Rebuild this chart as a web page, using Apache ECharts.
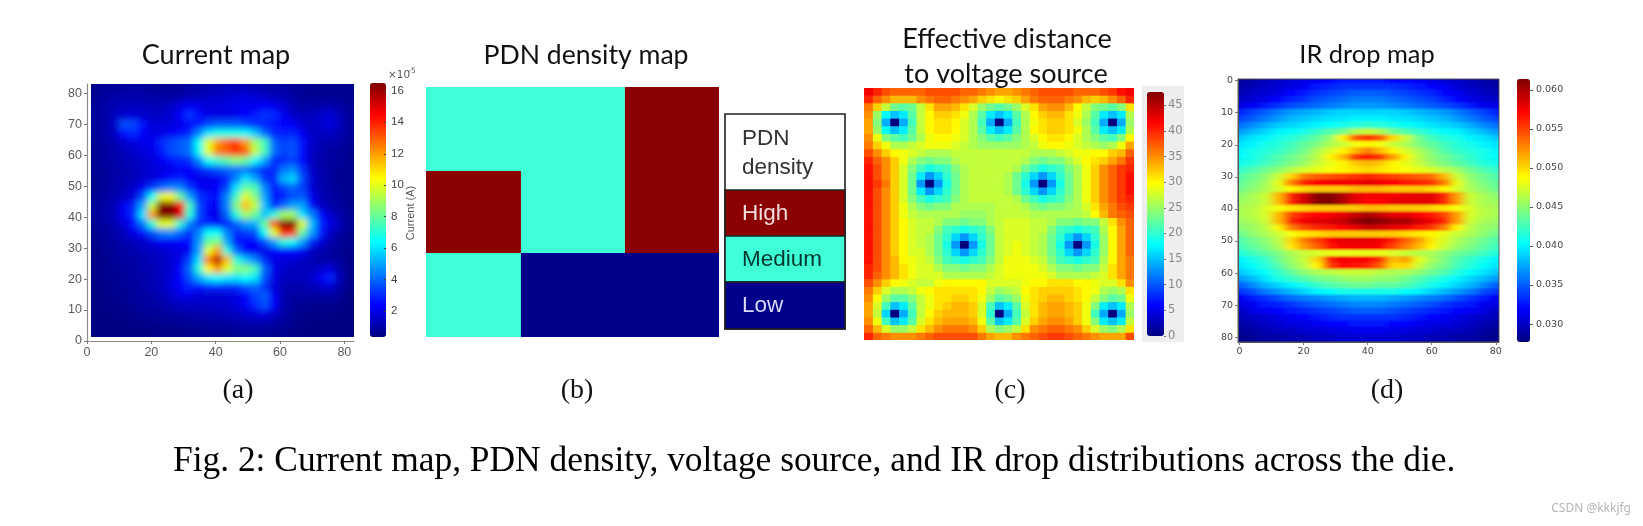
<!DOCTYPE html>
<html><head><meta charset="utf-8">
<style>
html,body{margin:0;padding:0;background:#fff}
#page{position:relative;width:1643px;height:526px;overflow:hidden;background:#fff}
#main{position:absolute;left:0;top:0;width:1643px;height:526px;z-index:3}
.clip{position:absolute;overflow:hidden;z-index:1}
.heat{position:absolute}
</style>
<script src="https://cdn.jsdelivr.net/npm/echarts@6/dist/echarts.min.js"></script>
</head><body>
<svg width="0" height="0" style="position:absolute"><filter id="softA" x="0" y="0" width="100%" height="100%"><feGaussianBlur stdDeviation="3.4"/></filter><filter id="softD" x="0" y="0" width="100%" height="100%"><feGaussianBlur stdDeviation="4 1.3"/></filter><filter id="softC" x="0" y="0" width="100%" height="100%"><feGaussianBlur stdDeviation="0.7"/></filter></svg>
<div id="page">
<div class="clip" id="clipA"><div class="heat" id="heatA"></div></div>
<div class="clip" id="clipC"><div class="heat" id="heatC"></div></div>
<div class="clip" id="clipD"><div class="heat" id="heatD"></div></div>
<div id="main"></div>
</div>
<script>
// Current map, x 10^-5 A, rows from the top of the die to the bottom
const currentMap = [
[.6,.7,.8,.9,.9,.9,.8,.7,.7,.8,.9,1,1.1,1.2,1.3,1.3,1.3,1.2,1.1,1,.9,.8,.7,.6,.6,.6,.6,.6],
[.7,.9,1,1.1,1.1,1.1,1,1,1,1.1,1.2,1.4,1.5,1.6,1.7,1.8,1.9,1.8,1.6,1.4,1.2,1,.8,.7,.7,.7,.7,.6],
[.8,1,1.2,1.3,1.4,1.4,1.3,1.3,1.5,1.9,2.3,2,1.8,1.8,1.9,2,2.2,2.2,2.3,2.2,1.7,1.2,1,1,1.1,1.2,1,.7],
[.8,1,1.3,1.7,1.8,1.6,1.5,1.5,1.7,2.4,3.2,2.5,2,1.9,2,2.1,2.4,2.8,3.2,3,2.2,1.6,1.3,1.4,1.6,1.7,1.3,.8],
[.8,1,1.5,3.6,3.5,2.5,1.8,1.7,1.8,2,2.3,2.8,3.5,3.8,3.8,3.8,3.5,3.2,2.8,2.7,2.4,2.2,1.7,1.4,1.6,1.9,1.4,.8],
[.8,1,1.4,2.6,3,2.3,1.9,1.9,2.2,2.5,3,4.5,6,6.8,6.8,6.8,6.5,5.5,4,3,2.8,2.9,2.2,1.5,1.4,1.4,1.2,.8],
[.7,.9,1.2,1.6,1.9,2,2.2,3,3.5,3.8,4.2,6.5,10,12,13,13.5,12,9,7.5,4,3.4,3.6,2.6,1.6,1.2,1.1,1,.7],
[.7,.9,1.1,1.3,1.6,1.8,2,2.7,3.5,3.8,4.2,6.5,10,12.5,13,13.8,13,9.5,7.5,4.2,3.4,3.7,2.6,1.5,1.1,.9,.8,.6],
[.7,.9,1,1.2,1.4,1.6,1.8,2.2,2.6,2.9,3,4.5,6.5,7.2,7.8,8.5,8,6.5,5,3,3,3.4,2.5,1.4,1,.9,.8,.6],
[.7,.8,1,1.1,1.3,1.5,1.7,1.9,2.1,2.4,2.3,2.8,3.2,3.6,4,4.2,4.2,3.6,2.9,3,4.2,4.6,3.2,1.6,1.1,.9,.7,.6],
[.6,.8,1,1.1,1.3,1.5,1.8,2.2,2.6,2.9,2.4,2,2,2.2,2.8,4.5,6,5,3.2,3,5.2,5.8,3.6,1.7,1.1,.9,.7,.6],
[.6,.8,1,1.2,1.6,2.2,3.2,4,4.5,4.5,3.2,2.4,2.1,2.3,3.5,6,8,7.5,4.5,2.7,3.4,4,3.4,1.8,1.2,.9,.7,.6],
[.7,.9,1.1,1.4,1.8,3.5,6.5,10,10.5,8,5,3.2,2.7,2.6,4.5,7.5,10,8.5,5,2.5,2.8,3.6,3.8,2.1,1.3,1,.8,.6],
[.8,1,1.2,2.2,3,5,9.5,16.5,16.5,14.5,7.5,3.5,2.5,2.2,4.5,8.5,11.5,9.5,5.5,3,4,5,5,2.5,1.5,1.1,.8,.6],
[.8,1,1.3,2.2,3,6,12,16.5,16.5,15,7,3.5,2.3,2,4,7,9,8,5.5,7,9,9,6,4.5,2.5,1.6,1.1,.7],
[.7,.9,1.2,1.8,2.6,4.2,7,10,10,7,4.5,3.2,3,2.6,2.9,3.9,4.9,5.2,8,13,16.5,16.5,10,5.5,3,2,1.3,.7],
[.6,.8,1,1.3,2,2.6,3.6,4.4,4.6,4,3.2,4.5,6.5,6.5,4.5,3,3.3,3.6,6.5,10,14,13.5,8,5,2.8,1.5,1,.6],
[.6,.7,.9,1.1,1.3,1.6,1.9,2.2,2.3,2.4,2.6,4.8,8,8.5,5,2.7,2.4,2.4,3.5,5,7,6.5,5,3,1.8,1.1,.8,.6],
[.5,.7,.8,1,1.1,1.3,1.4,1.6,1.8,1.9,2.3,5,10,12,7,4,2.5,2.2,2,2.3,2.6,2.6,2.2,1.5,1.1,.9,.7,.5],
[.5,.6,.8,.9,1,1.1,1.3,1.4,1.7,2.1,3.5,6,12.5,15.5,11.5,7,5.5,4.5,3,2,1.8,1.7,1.5,1.2,1,1,.8,.5],
[.5,.6,.7,.8,.9,1.1,1.2,1.4,1.7,2.3,4,7,10.5,12,10,8.5,8.5,7.5,4,2.1,1.6,1.4,1.3,1.3,1.6,1.9,1.1,.5],
[.5,.6,.7,.8,.9,1,1.2,1.4,1.8,2.4,3.6,5,6,6.5,6,6,6.5,6,3.6,1.9,1.4,1.3,1.3,1.6,2.2,2.9,1.3,.5],
[.4,.5,.6,.7,.8,1,1.2,1.3,1.8,2.4,2.9,2.6,3,3,3,3,3.6,4,3.2,1.8,1.2,1.1,1.1,1.2,1.5,1.7,1,.5],
[.4,.5,.6,.7,.8,.9,1,1.2,1.5,1.9,2,1.7,1.6,1.6,1.7,1.9,2.4,3.4,3.8,2.2,1.1,.9,.9,.9,.9,.9,.7,.4],
[.4,.5,.5,.6,.7,.8,.9,1,1.2,1.4,1.4,1.4,1.4,1.5,1.6,1.8,2.2,3,3.6,2.3,1.1,.8,.7,.6,.6,.6,.5,.4],
[.4,.4,.5,.5,.6,.7,.7,.8,.9,1,1,1.1,1.1,1.2,1.3,1.4,1.6,1.8,1.9,1.5,1,.7,.6,.5,.5,.5,.4,.4],
[.4,.4,.4,.4,.5,.5,.6,.6,.6,.7,.7,.8,.8,.9,.9,1,1.1,1.1,1.1,1,.8,.6,.5,.4,.4,.4,.4,.4],
[.4,.4,.4,.4,.4,.4,.4,.5,.5,.5,.5,.6,.6,.6,.6,.7,.7,.7,.7,.6,.6,.5,.4,.4,.4,.4,.4,.4]
];
// Effective distance to the nearest voltage source
const distanceMap = [
[42,40,38,37,37,37,37,38,38,38,38,37,37,36,35,34,34,35,36,37,38,38,38,38,37,37,37,38,39,41,42],
[40,37,35,33,33,33,35,36,37,37,36,35,34,32,31,30,31,32,34,36,37,37,37,36,35,33,32,33,35,37,40],
[36,32,27,23,22,23,27,31,34,34,33,31,28,25,23,22,23,25,28,31,34,35,35,33,30,27,24,23,22,24,31],
[35,25,18,15,17,22,27,30,32,32,31,29,26,22,17,15,17,22,26,30,32,33,33,31,29,26,22,17,15,17,26],
[34,24,14,0,14,21,27,30,31,31,30,28,26,21,14,0,14,21,26,29,31,32,32,31,28,25,21,14,0,14,25],
[34,25,18,15,17,22,27,30,31,31,30,28,26,22,17,15,17,22,26,30,31,32,32,31,29,26,22,17,15,17,26],
[35,29,24,22,21,23,26,29,30,30,29,28,26,24,22,21,22,24,26,28,30,31,31,30,28,26,24,22,21,24,30],
[36,32,29,26,26,27,28,29,29,29,28,27,26,25,25,25,25,25,26,27,29,30,30,29,28,27,26,25,26,29,34],
[38,35,32,30,29,28,27,26,26,26,27,27,27,27,27,27,27,27,27,26,26,26,27,28,29,29,30,30,32,33,37],
[40,37,35,32,29,26,24,23,24,24,26,27,27,27,27,27,27,27,26,24,23,24,24,26,28,30,31,32,34,36,39],
[41,38,35,32,28,24,21,19,20,21,24,26,27,27,27,27,27,26,23,21,19,20,21,24,26,29,32,35,37,39,40],
[41,38,35,32,28,23,17,13,16,20,23,26,27,27,27,27,26,23,20,16,13,16,20,23,26,29,32,35,37,39,41],
[41,39,36,32,28,23,13,0,13,19,23,26,27,27,27,27,26,23,19,13,0,13,19,23,26,29,32,35,37,39,41],
[41,38,35,32,28,23,17,13,16,20,23,26,27,27,27,27,26,23,20,16,13,16,20,23,26,29,32,35,37,39,41],
[41,38,35,32,28,24,21,19,20,21,24,26,27,27,27,27,27,26,23,21,19,20,21,24,26,29,32,35,37,39,40],
[41,38,35,32,29,26,24,23,24,24,26,26,26,26,26,27,27,27,26,24,23,24,24,25,26,28,31,34,36,38,39],
[41,38,35,32,29,27,26,26,26,26,26,25,25,25,26,27,27,27,27,26,26,26,26,26,26,27,30,33,36,37,38],
[41,38,35,32,30,28,27,27,26,24,24,23,24,24,26,27,28,28,28,27,27,26,24,24,23,24,24,27,31,35,37],
[41,38,35,32,30,28,27,27,24,21,20,19,20,21,24,27,28,28,28,27,27,24,21,20,19,20,21,26,30,34,37],
[41,38,35,32,30,28,27,26,23,20,16,13,16,20,23,27,28,28,28,27,26,23,20,16,13,16,20,25,30,34,37],
[41,38,35,32,30,28,27,26,23,19,13,0,13,19,23,27,28,29,28,27,26,23,19,13,0,13,19,25,30,34,37],
[41,38,35,32,30,28,28,26,23,20,16,13,16,20,23,27,28,29,28,27,26,23,20,16,13,16,20,25,30,34,37],
[41,38,35,33,30,29,28,27,24,21,20,19,20,21,24,27,29,29,29,28,27,24,21,20,19,20,21,26,30,34,36],
[40,38,35,33,31,29,28,28,26,24,24,23,24,24,26,28,29,29,29,29,28,26,24,24,23,24,24,27,31,34,36],
[40,37,35,33,31,29,28,28,28,26,26,26,26,26,27,28,29,29,29,29,29,28,26,26,26,26,27,28,31,34,36],
[38,35,32,30,29,28,27,27,29,30,30,30,30,30,28,28,28,28,29,30,30,31,31,31,30,30,29,28,28,31,35],
[36,32,28,26,26,27,29,30,31,31,31,31,31,30,27,25,26,27,30,31,32,32,32,32,31,30,29,26,25,26,31],
[35,30,25,22,22,24,27,29,31,31,32,32,31,29,25,22,23,25,29,31,32,33,33,32,31,30,27,24,22,23,29],
[34,28,21,15,17,22,27,29,31,32,33,33,32,28,21,15,17,22,28,31,33,34,34,33,32,29,24,17,15,17,26],
[34,27,16,0,14,21,27,30,32,33,33,33,32,28,20,0,14,21,27,31,33,34,34,33,32,29,21,14,0,14,25],
[35,29,21,15,17,22,28,31,33,34,34,34,33,29,22,15,17,22,28,32,34,35,35,34,32,29,24,17,15,17,27],
[37,33,28,25,25,27,31,33,35,36,36,36,35,32,26,24,25,27,31,35,36,37,37,36,35,32,28,25,24,26,31],
[40,37,36,35,35,35,36,37,38,38,38,38,38,36,34,33,33,35,36,37,38,39,39,38,37,36,35,34,34,34,38]
];
// IR drop in mV: one row every 2 units of y, one column every 4 units of x
const irDropMap = [
[28.5,29,29.5,30,30.5,31,31.5,32,32.5,32.5,32.5,32.5,32,32,31.5,31,30.5,30,29.5,29,28.5],
[29,29.5,30,30.5,31,31.5,32.5,33,33.5,33.5,33.5,33.5,33.5,33,32.5,32,31.5,30.5,30,29.5,29],
[29.5,30,30.5,31,32,32.5,33.5,34,34.5,35,35,35,34.5,34,33.5,33,32,31.5,30.5,30,29.5],
[30,30.5,31,32,33,33.5,34.5,35,35.5,36,36,36,35.5,35,34.5,34,33,32,31,30.5,30],
[31,31.5,32.5,33.5,34.5,35,35.5,36,36.5,37,37,37,36.5,36,35.5,35,34.5,33.5,32.5,31.5,31],
[33,34,35,36,37,37.5,38,38.5,39,39,39,39,39,38.5,38,37.5,37,36,35,34,33],
[34,35,36,37,38,38.5,39,39.5,39.5,40,40,40,39.5,39.5,39,38.5,38,37,36,35,34],
[35.5,36.5,37.5,38.5,39,39.5,40,40.5,41,41.5,42,41.5,41,40.5,40,39.5,39,38.5,37.5,36.5,35.5],
[37,38,39,40,40.5,41,42,43,44,46,47,46,44,43,42,41,40.5,40,39,38,37],
[38.5,39.5,40,41,41.5,42.5,43.5,45,49,54,55.5,54,50,47,44,42.5,41.5,41,40,39.5,38.5],
[39.5,40,41,41.5,42.5,43.5,44.5,46,47,48.5,49,48.5,47,46,44.5,43.5,42.5,41.5,41,40,39.5],
[40,41,41.5,42,43,44,46,47.5,49,51,53,51,49,47.5,46,44.5,43,42,41.5,41,40],
[40.5,41,42,43,44,45,46.5,49,51,55.5,56.5,55.5,52,49,46.5,45,44,43,42,41,40.5],
[41,41.5,42.5,43.5,44.5,45.5,47,48,49,50.5,51,50.5,49,48,47,45.5,44.5,43.5,42.5,41.5,41],
[42,43,44,45,46.5,47.5,48,48.5,49,49.5,50,49.5,49,48.5,48,47.5,46.5,45.5,44,43,42],
[43,44,45,47,50,53,54,54.5,55,55.5,56,55.5,55,54.5,54,53.5,51,47,45,44,43],
[43.5,44.5,45.5,48,53,56,57,57.5,57.5,57.5,58,57.5,57,56.5,56,55.5,53,48,45.5,44.5,43.5],
[44,45,46,47.5,49,50,50.5,50.5,50.5,51,51,51,50.5,50.5,50.5,50,49,47.5,46,45,44],
[45,46,47,51,56,58.5,61,61.4,60,58,57.5,57.5,57.5,58,58,58,56,52,47,46,45],
[45.5,46,47,51,56,58.5,61,61.4,60,58,57,57,58,58,58,58,56,52,47,46,45.5],
[46,46.5,47.5,48.5,49.5,50,50.5,50.5,50.5,50.5,51,51,50.5,50.5,50.5,50,49.5,48.5,47.5,46.5,46],
[46,46.5,47.5,51,55,56.5,57,57.5,58,59,60,59,58,58,57,56.5,55,52,47.5,46.5,46],
[45.5,46,47,51,56,57.5,58,58.5,59,60.5,61.4,61,60,60,58.5,57.5,56,52,47,46,45.5],
[45,45.5,46.5,49,53,55,56,56.5,57,58,59,58.5,58,57.5,56.5,55.5,53,49,46.5,45.5,45],
[44,45,46,47,48.5,49.5,50,50.5,50.5,50.5,50.5,50.5,50.5,50,49.5,49,48,47,46,45,44],
[43,44,45,46.5,50,53,55,57,58,58,58,57.5,56,54,52,49.5,47.5,46,45,44,43],
[42.5,43.5,44.5,46,49.5,52,54,56.5,57.5,57.5,57.5,57,55,53,51,49,47,45.5,44.5,43.5,42.5],
[41.5,42.5,43.5,44.5,46,47,47.5,48,48,48,48,48,47.5,47,46.5,46,45,44,43.5,42.5,41.5],
[40,41,42,44,45.5,47,50,56,57.5,57,57,55.5,51,52,48,46,44.5,43,42,41,40],
[39.5,40.5,41.5,43,45,46.5,49,55,57,56.5,56,54,50,50,47,45,44,42.5,41.5,40.5,39.5],
[38.5,39.5,40.5,42,43.5,45,46,46.5,47,47,47,46.5,46,46,45,44,43,41.5,40.5,39.5,38.5],
[37,38,39.5,41,42,43,44,44.5,45,45.5,45.5,45,45,44,43,42,41,40,39,38,37],
[35,36.5,38,39,40,41,42,43,43.5,44,44,43.5,43.5,43,42,41,40,39,38,36.5,35],
[33.5,34.5,36,37,38,39,40,40.5,41,41,41,41,41,40.5,40,39,38,37,36,34.5,33.5],
[31.5,32.5,33.5,34.5,35.5,36,36.5,37,37.5,38,38,38,37.5,37,36.5,36,35.5,34.5,33.5,32.5,31.5],
[31,31.5,32.5,33,33.5,34.5,35,35.5,36,36.5,36.5,36.5,36,35.5,35,34.5,33.5,33,32.5,31.5,31],
[30,31,31.5,32,32.5,33,33.5,34,34.5,35,35,35,34.5,34,33.5,33,32.5,32,31.5,31,30],
[29.5,30,30.5,31,31.5,32,32.5,33,33.5,33.5,33.5,33.5,33.5,33,32.5,32,31.5,31,30.5,30,29.5],
[29,29.5,30,30.5,31,31,31.5,32,32,32.5,32.5,32.5,32,32,31.5,31,31,30.5,30,29.5,29],
[28.5,29,29.5,30,30,30.5,30.5,31,31,31.5,31.5,31.5,31,31,30.5,30.5,30,30,29.5,29,28.5],
[28,28.5,29,29,29.5,29.5,30,30,30.5,30.5,30.5,30.5,30.5,30,30,29.5,29.5,29,29,28.5,28]
];
// PDN density regions, in percent of the die: x0, x1, y0, y1, level
const pdnRegions = [
[0,67.9,0,33.6,1],[32.4,67.9,33.6,66.4,1],[0,32.4,66.4,100,1],
[67.9,100,0,66.4,2],[0,32.4,33.6,66.4,2],
[32.4,100,66.4,100,0]
];
const pdnLevels = ['Low','Medium','High'];
const titles = ['Current map','PDN density map','Effective distance','to voltage source','IR drop map'];
const panelLabels = ['(a)','(b)','(c)','(d)'];
const caption = 'Fig. 2: Current map, PDN density, voltage source, and IR drop distributions across the die.';
const ticksAx = [0,20,40,60,80];
const ticksAy = [0,10,20,30,40,50,60,70,80];
const ticksDx = [0,20,40,60,80];
const ticksDy = [0,10,20,30,40,50,60,70,80];
const barTicksA = [2,4,6,8,10,12,14,16];
const barTicksC = [0,5,10,15,20,25,30,35,40,45];
const barTicksD = [30,35,40,45,50,55,60];
const rangeA = [.35,16.5], rangeC = [0,47.6], rangeD = [27.7,61.4];

const jet = ['#00007f','#0000ff','#007fff','#00ffff','#7fff7f','#ffff00','#ff7f00','#ff0000','#7f0000'];
const pdnColors = ['#00008b','#3effd6','#8b0000'];

function padRows(rows, n){
  const wide = rows.map(r => [...Array(n).fill(r[0]), ...r, ...Array(n).fill(r[r.length-1])]);
  return [...Array(n).fill(wide[0]), ...wide, ...Array(n).fill(wide[wide.length-1])];
}
function mountHeat(id, clipId, box, rows, cw, ch, x0, y0, pad, range, filter, bg){
  const clip = document.getElementById(clipId), el = document.getElementById(id);
  clip.style.cssText += `left:${box[0]}px;top:${box[1]}px;width:${box[2]}px;height:${box[3]}px;background:${bg};`;
  const padded = padRows(rows, pad);
  const nx = padded[0].length, ny = padded.length;
  el.style.cssText += `left:${x0-box[0]-pad*cw}px;top:${y0-box[1]-pad*ch}px;width:${nx*cw}px;height:${ny*ch}px;filter:${filter};`;
  const data = [];
  padded.forEach((r,j)=>r.forEach((v,i)=>data.push([i,j,v])));
  const c = echarts.init(el);
  c.setOption({animation:false,
    grid:{left:0,right:0,top:0,bottom:0},
    xAxis:{type:'category',show:false,data:padded[0].map((_, i)=>i)},
    yAxis:{type:'category',show:false,inverse:true,data:padded.map((_, i)=>i)},
    visualMap:{show:false,min:range[0],max:range[1],inRange:{color:jet}},
    series:[{type:'heatmap',data,progressive:0,animation:false}]});
}
mountHeat('heatA','clipA',[91,84,263,253],currentMap,263/28,253/28,91,84,3,rangeA,'url(#softA)','#00007f');
mountHeat('heatC','clipC',[864,88,270,252],distanceMap,270/31,252/33,864,88,2,rangeC,'url(#softC)','#ffa000');
mountHeat('heatD','clipD',[1238,79,261,263],irDropMap,12.8,6.4,1233.2,77.4,3,rangeD,'url(#softD)','#0040ff');

const grey = '#5a5a5a';
function axis(min, max, ticks, extra){
  return Object.assign({type:'value',min,max,splitLine:{show:false},
    axisLine:{onZero:false,lineStyle:{color:'#8c8c8c',width:1.2}},
    axisTick:{customValues:ticks,length:3,lineStyle:{color:'#777'}},
    axisLabel:{customValues:ticks,color:grey,fontFamily:'Liberation Sans',fontSize:12.5,margin:5}},extra||{});
}
const hidden = (gridIndex,min,max)=>({type:'value',gridIndex,min,max,show:false});
const grids = [
 {left:87,top:84,width:267,height:257},
 {left:426,top:87,width:293,height:250},
 {left:370,top:83,width:16,height:254},
 {left:1147,top:92,width:17,height:244},
 {left:1238,top:79,width:261,height:263,show:true,borderColor:'#555',borderWidth:1,backgroundColor:'transparent'},
 {left:1517,top:79,width:13,height:263}
];
const dj = 'DejaVu Sans';
const lineD = {onZero:false,lineStyle:{color:'#555'}};
const xAxes = [
 axis(0,83,ticksAx,{gridIndex:0}),
 hidden(1,0,100),
 hidden(2,0,1),hidden(3,0,1),
 axis(-0.5,81,ticksDx,{gridIndex:4,axisLine:lineD,axisLabel:{customValues:ticksDx,color:'#444',fontFamily:dj,fontSize:9.5,margin:5}}),
 hidden(5,0,1)
];
const yAxes = [
 axis(0,83,ticksAy,{gridIndex:0}),
 {type:'value',gridIndex:1,min:0,max:100,inverse:true,show:false},
 axis(rangeA[0],rangeA[1],barTicksA,{gridIndex:2,position:'right',z:5,axisLine:{show:false,onZero:false},axisTick:{customValues:barTicksA,inside:true,length:2,lineStyle:{color:'#444'}},axisLabel:{customValues:barTicksA,color:'#444',fontFamily:'Liberation Sans',fontSize:11.5,margin:5}}),
 axis(rangeC[0],rangeC[1],barTicksC,{gridIndex:3,position:'right',z:5,axisLine:{show:false,onZero:false},axisTick:{customValues:barTicksC,length:2,lineStyle:{color:'#777'}},axisLabel:{customValues:barTicksC,color:'#8a8a8a',fontFamily:dj,fontSize:11.5,margin:4}}),
 axis(-0.5,81.5,ticksDy,{gridIndex:4,inverse:true,axisLine:lineD,axisLabel:{customValues:ticksDy,color:'#444',fontFamily:dj,fontSize:9.5,margin:5}}),
 axis(rangeD[0],rangeD[1],barTicksD,{gridIndex:5,position:'right',z:5,axisLine:{show:false,onZero:false},axisTick:{customValues:barTicksD,length:3,lineStyle:{color:'#555'}},axisLabel:{customValues:barTicksD,color:'#444',fontFamily:dj,fontSize:9.5,margin:6,formatter:v=>(v/1000).toFixed(3)}})
];
const renderRegion = (params,api)=>{
  const a = api.coord([api.value(0),api.value(2)]), b = api.coord([api.value(1),api.value(3)]);
  return {type:'rect',shape:{x:a[0],y:a[1],width:b[0]-a[0],height:b[1]-a[1]},style:{fill:pdnColors[api.value(4)]}};
};
const emptyBar = g=>({type:'scatter',xAxisIndex:g,yAxisIndex:g,data:[],silent:true});
const series = [
 {type:'custom',xAxisIndex:1,yAxisIndex:1,data:pdnRegions,renderItem:renderRegion,encode:{x:[0,1],y:[2,3]},silent:true},
 emptyBar(2),emptyBar(3),emptyBar(5)
];
const bar = (left,top,w,h,range,idx)=>({show:true,type:'continuous',left,top,itemWidth:w,itemHeight:h,min:range[0],max:range[1],
  seriesIndex:idx,calculable:false,hoverLink:false,text:null,showLabel:false,padding:0,inRange:{color:jet},borderWidth:0});
const visualMap = [bar(370,83,16,254,rangeA,1),bar(1147,92,17,244,rangeC,2),bar(1517,79,13,263,rangeD,3)];

const txt = (text,x,y,font,size,fill,opt)=>({type:'text',x,y,z:10,style:Object.assign({text,fontFamily:font,fontSize:size,fill,align:'center',verticalAlign:'middle'},opt||{})});
const rect = (x,y,w,h,fill,stroke,z)=>({type:'rect',z:z==null?8:z,shape:{x,y,width:w,height:h},style:{fill,stroke:stroke||null,lineWidth:stroke?1.6:0}});
const titleFont='Lato', serif='Liberation Serif', arial='Liberation Sans';
const legendInk = {title:'#333333',High:'#f2dcdc',Medium:'#04382e',Low:'#d9d9f5'};
const graphic = [
 rect(1142,86,42,256,'#eeeeee',null,-1),
 txt(titles[0],216,55,titleFont,27,'#111'),
 txt(titles[1],586,55,titleFont,26.6,'#111'),
 txt(titles[2],1007,39,titleFont,27,'#111'),
 txt(titles[3],1006,74,titleFont,27,'#111'),
 txt(titles[4],1367,55,titleFont,25.4,'#111'),
 txt('×10',399,75,dj,10.5,'#555'),
 txt('-5',412,71,dj,7.5,'#555'),
 Object.assign(txt('Current (A)',411,213,arial,11,'#555'),{rotation:Math.PI/2}),
 rect(725,114,120,215,'#ffffff','#222222'),
 rect(725,190,120,46,pdnColors[2],'#222222'),
 rect(725,236,120,46,pdnColors[1],'#222222'),
 rect(725,282,120,47,pdnColors[0],'#222222'),
 txt('PDN',742,139,arial,22.5,legendInk.title,{align:'left'}),
 txt('density',742,168,arial,22.5,legendInk.title,{align:'left'}),
 txt(pdnLevels[2],742,214,arial,22.5,legendInk.High,{align:'left'}),
 txt(pdnLevels[1],742,260,arial,22.5,legendInk.Medium,{align:'left'}),
 txt(pdnLevels[0],742,306,arial,22.5,legendInk.Low,{align:'left'}),
 txt(panelLabels[0],238,391,serif,28,'#111'),
 txt(panelLabels[1],577,391,serif,28,'#111'),
 txt(panelLabels[2],1010,391,serif,28,'#111'),
 txt(panelLabels[3],1387,391,serif,28,'#111'),
 txt(caption,173,461.5,serif,35.4,'#000',{align:'left'}),
 txt('CSDN @kkkjfg',1631,509,'Noto Sans',12,'#b5b5b5',{align:'right'})
];
const main = echarts.init(document.getElementById('main'));
main.setOption({animation:false,backgroundColor:'transparent',grid:grids,xAxis:xAxes,yAxis:yAxes,visualMap,series,graphic});
</script>
</body></html>
